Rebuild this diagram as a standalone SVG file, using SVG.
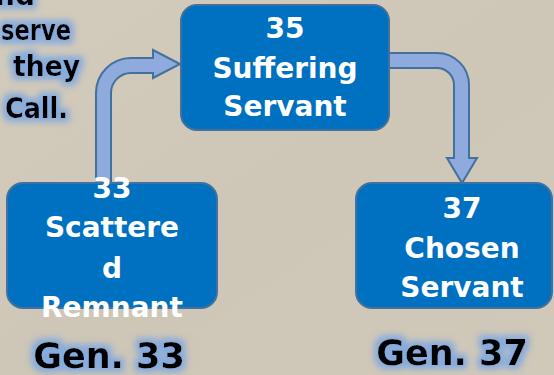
<svg xmlns="http://www.w3.org/2000/svg" width="554" height="375" viewBox="0 0 554 375">
<defs>
<style>
.box{fill:#0070C0;stroke:#41719C;stroke-width:2}
.arrow{fill:#8FAADC;stroke:#41719C;stroke-width:2;stroke-linejoin:miter}
.wt{font-family:"DejaVu Sans",sans-serif;font-weight:bold;font-size:28px;fill:#ffffff;text-anchor:middle}
.bt{font-family:"DejaVu Sans",sans-serif;font-weight:bold;fill:#000000;filter:url(#glow)}
</style>
<linearGradient id="bg" x1="0" y1="0" x2="1" y2="1">
<stop offset="0" stop-color="#d3cbbb"/>
<stop offset="0.5" stop-color="#cec6b6"/>
<stop offset="1" stop-color="#d0c8b9"/>
</linearGradient>
<filter id="glow" x="-20%" y="-40%" width="140%" height="180%">
<feMorphology in="SourceAlpha" operator="dilate" radius="4" result="d"/>
<feGaussianBlur in="d" stdDeviation="3" result="b"/>
<feFlood flood-color="#7fa8e0" flood-opacity="0.9"/>
<feComposite in2="b" operator="in" result="g"/>
<feMerge><feMergeNode in="g"/><feMergeNode in="SourceGraphic"/></feMerge>
</filter>
</defs>
<rect x="0" y="0" width="554" height="375" fill="url(#bg)"/>
<g id="caption-text">
<text class="bt" font-size="28" x="35" y="5" text-anchor="end">nd</text>
<text class="bt" font-size="28" x="1" y="40" textLength="70" lengthAdjust="spacingAndGlyphs">serve</text>
<text class="bt" font-size="28" x="13" y="76" textLength="67" lengthAdjust="spacingAndGlyphs">they</text>
<text class="bt" font-size="28" x="5" y="118" textLength="63" lengthAdjust="spacingAndGlyphs">Call.</text>
</g>
<g id="connectors">
<path class="arrow" d="M96,184 L96,93 A35,35 0 0 1 131,58 L153,58 L153,50 L180,64 L153,78 L153,73 L131,73 A20,20 0 0 0 111,93 L111,184 Z"/>
<path class="arrow" d="M389,53 L437,53 A32,32 0 0 1 469,85 L469,158 L477,158 L462,183 L447,158 L454,158 L454,85 A17,17 0 0 0 437,68 L389,68 Z"/>
</g>
<g id="node-35">
<rect class="box" x="181" y="5" width="208" height="125" rx="16"/>
<text class="wt" x="285" y="38">35</text>
<text class="wt" x="285" y="78">Suffering</text>
<text class="wt" x="285" y="116">Servant</text>
</g>
<g id="node-33">
<rect class="box" x="7" y="183" width="210" height="125" rx="16"/>
<text class="wt" x="112" y="198">33</text>
<text class="wt" x="112" y="237">Scattere</text>
<text class="wt" x="112" y="278">d</text>
<text class="wt" x="112" y="317">Remnant</text>
</g>
<g id="node-37">
<rect class="box" x="356" y="183" width="196" height="125" rx="16"/>
<text class="wt" x="462" y="218">37</text>
<text class="wt" x="462" y="258">Chosen</text>
<text class="wt" x="462" y="297">Servant</text>
</g>
<g id="labels">
<text class="bt" font-size="35" x="109" y="368" text-anchor="middle">Gen. 33</text>
<text class="bt" font-size="35" x="452" y="365" text-anchor="middle">Gen. 37</text>
</g>
</svg>
